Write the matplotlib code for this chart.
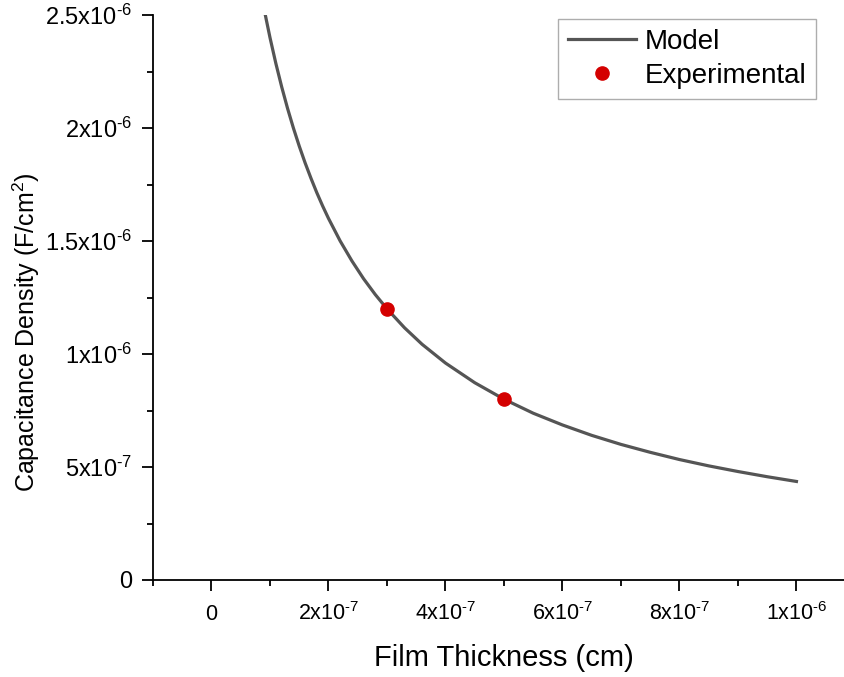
import matplotlib
matplotlib.use("Agg")
import matplotlib.pyplot as plt
from matplotlib.ticker import MultipleLocator

plt.rcParams["font.family"] = ["Liberation Sans", "DejaVu Sans"]
plt.rcParams["mathtext.fontset"] = "custom"
plt.rcParams["mathtext.rm"] = "Liberation Sans"
plt.rcParams["mathtext.it"] = "Liberation Sans:italic"
plt.rcParams["mathtext.bf"] = "Liberation Sans:bold"

# model curve (cm, F/cm^2)
model_x = [0.92e-7, 1.0e-7, 1.1e-7, 1.2e-7, 1.3e-7, 1.4e-7, 1.5e-7, 1.6e-7,
           1.7e-7, 1.8e-7, 1.9e-7, 2.0e-7, 2.2e-7, 2.4e-7, 2.6e-7, 2.8e-7,
           3.0e-7, 3.3e-7, 3.6e-7, 4.0e-7, 4.5e-7, 5.0e-7, 5.5e-7, 6.0e-7,
           6.5e-7, 7.0e-7, 7.5e-7, 8.0e-7, 8.5e-7, 9.0e-7, 9.5e-7, 1.0e-6]
model_y = [2.50e-6, 2.40e-6, 2.286e-6, 2.182e-6, 2.087e-6, 2.00e-6, 1.92e-6,
           1.846e-6, 1.778e-6, 1.714e-6, 1.655e-6, 1.60e-6, 1.50e-6, 1.412e-6,
           1.333e-6, 1.263e-6, 1.20e-6, 1.116e-6, 1.043e-6, 0.96e-6, 0.873e-6,
           0.80e-6, 0.738e-6, 0.686e-6, 0.64e-6, 0.60e-6, 0.565e-6, 0.533e-6,
           0.505e-6, 0.48e-6, 0.457e-6, 0.436e-6]

exp_x = [3e-7, 5e-7]
exp_y = [1.2e-6, 0.8e-6]

x_ticks = [0, 2e-7, 4e-7, 6e-7, 8e-7, 1e-6]
x_labels = ["0", r"2x10$^{\text{-}7}$", r"4x10$^{\text{-}7}$", r"6x10$^{\text{-}7}$",
            r"8x10$^{\text{-}7}$", r"1x10$^{\text{-}6}$"]
y_ticks = [0, 5e-7, 1e-6, 1.5e-6, 2e-6, 2.5e-6]
y_labels = ["0", r"5x10$^{\text{-}7}$", r"1x10$^{\text{-}6}$", r"1.5x10$^{\text{-}6}$",
            r"2x10$^{\text{-}6}$", r"2.5x10$^{\text{-}6}$"]


fig = plt.figure(figsize=(8.45, 6.77), dpi=100)
ax = fig.add_axes([153 / 845, 1 - 580 / 677, 692 / 845, 565 / 677])

ax.plot(model_x, model_y, color="#555555", lw=2.3, label="Model", zorder=2)
ax.plot(exp_x, exp_y, "o", color="#d40000", ms=9.5, label="Experimental", zorder=3)

ax.set_xlim(-1e-7, 1.083e-6)
ax.set_ylim(0, 2.5e-6)

ax.tick_params(which="major", direction="out", length=8, width=1.3)
ax.tick_params(which="minor", direction="out", length=4.5, width=1.3)
ax.tick_params(axis="x", which="major", pad=21, labelsize=15.5)
ax.tick_params(axis="y", which="major", pad=7, labelsize=17)

ax.set_xticks(x_ticks, x_labels)
ax.set_yticks(y_ticks, y_labels)
for lab in ax.get_xticklabels():
    lab.set_verticalalignment("baseline")
ax.xaxis.set_minor_locator(MultipleLocator(1e-7))
ax.yaxis.set_minor_locator(MultipleLocator(2.5e-7))

for side in ["top", "right"]:
    ax.spines[side].set_visible(False)
for side in ["left", "bottom"]:
    ax.spines[side].set_linewidth(1.3)

ax.set_xlabel("Film Thickness (cm)", fontsize=21)
ax.set_ylabel("Capacitance Density (F/cm$^2$)", fontsize=18)
ax.xaxis.set_label_coords(0.507, -0.113)
ax.yaxis.set_label_coords(-0.161, 0.439)

leg = ax.legend(loc="upper right", bbox_to_anchor=(816 / 845, 1 - 19 / 677),
                bbox_transform=fig.transFigure, fontsize=20, frameon=True,
                fancybox=False, edgecolor="#999999", handlelength=2.45,
                borderpad=0.35, labelspacing=0.3, handletextpad=0.3,
                borderaxespad=0)
leg.get_frame().set_linewidth(1.0)

fig.savefig("out.png", dpi=100)
